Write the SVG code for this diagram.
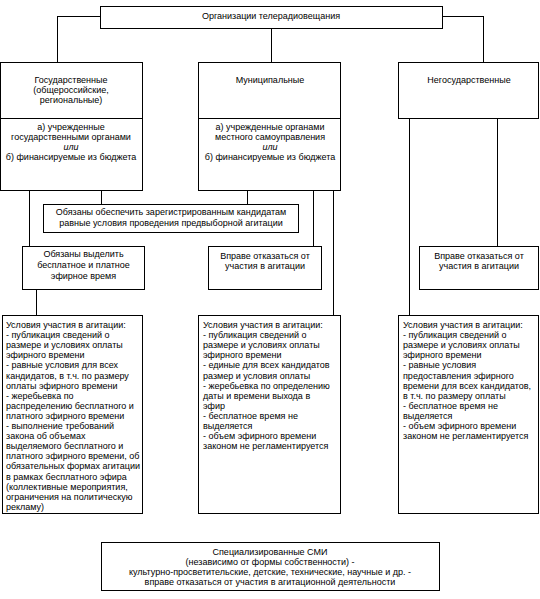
<svg xmlns="http://www.w3.org/2000/svg" width="540" height="599" viewBox="0 0 540 599">
<style>
rect{fill:#fff;stroke:#000;stroke-width:1}
path{fill:none;stroke:#000;stroke-width:1}
text{font-family:"Liberation Sans",Arial,sans-serif;font-size:9px;fill:#000}
.c{text-anchor:middle}
.i{font-style:italic}
</style>
<rect width="540" height="599" style="stroke:none"/>
<g id="connectors" shape-rendering="crispEdges">
<path d="M100.5 16.5H57.5V62.5"/>
<path d="M442.5 16.5H483.5V62.5"/>
<path d="M271.5 28.5V62.5"/>
<path d="M29.5 190.5V246.5"/>
<path d="M101.5 190.5V204.5"/>
<path d="M36.5 289.5V315.5"/>
<path d="M247.5 190.5V204.5"/>
<path d="M313.5 190.5V246.5"/>
<path d="M333.5 190.5V315.5"/>
<path d="M409.5 118.5V315.5"/>
<path d="M497.5 118.5V246.5"/>
</g>
<g id="top" shape-rendering="crispEdges">
<rect x="100.5" y="6.5" width="342" height="22"/>
<text class="c" x="271" y="19">Организации телерадиовещания</text>
</g>
<g id="gos">
<rect x="0.5" y="62.5" width="142" height="56" shape-rendering="crispEdges"/>
<text class="c" x="71" y="83">Государственные</text>
<text class="c" x="71" y="93">(общероссийские,</text>
<text class="c" x="71" y="103">региональные)</text>
</g>
<g id="gos2">
<rect x="0.5" y="118.5" width="142" height="72" shape-rendering="crispEdges"/>
<text class="c" x="71" y="130">а) учрежденные</text>
<text class="c" x="71" y="140">государственными органами</text>
<text class="c i" x="71" y="150">или</text>
<text class="c" x="71" y="160">б) финансируемые из бюджета</text>
</g>
<g id="mun">
<rect x="198.5" y="62.5" width="142" height="56" shape-rendering="crispEdges"/>
<text class="c" x="270" y="83">Муниципальные</text>
</g>
<g id="mun2">
<rect x="198.5" y="118.5" width="142" height="72" shape-rendering="crispEdges"/>
<text class="c" x="270" y="130">а) учрежденные органами</text>
<text class="c" x="270" y="140">местного самоуправления</text>
<text class="c i" x="270" y="150">или</text>
<text class="c" x="270" y="160">б) финансируемые из бюджета</text>
</g>
<g id="negos">
<rect x="398.5" y="62.5" width="140" height="56" shape-rendering="crispEdges"/>
<text class="c" x="469" y="83">Негосударственные</text>
</g>
<g id="obespechit">
<rect x="43.5" y="204.5" width="255" height="28" shape-rendering="crispEdges"/>
<text class="c" x="171" y="215">Обязаны обеспечить зарегистрированным кандидатам</text>
<text class="c" x="171" y="226">равные условия проведения предвыборной агитации</text>
</g>
<g id="vydelit">
<rect x="22.5" y="246.5" width="122" height="43" shape-rendering="crispEdges"/>
<text class="c" x="83.5" y="257">Обязаны выделить</text>
<text class="c" x="83.5" y="268">бесплатное и платное</text>
<text class="c" x="83.5" y="279">эфирное время</text>
</g>
<g id="vprave-mun">
<rect x="208.5" y="246.5" width="113" height="43" shape-rendering="crispEdges"/>
<text class="c" x="265" y="259">Вправе отказаться от</text>
<text class="c" x="265" y="269">участия в агитации</text>
</g>
<g id="vprave-negos">
<rect x="419.5" y="246.5" width="119" height="43" shape-rendering="crispEdges"/>
<text class="c" x="479" y="259">Вправе отказаться от</text>
<text class="c" x="479" y="269">участия в агитации</text>
</g>
<g id="usl-gos">
<rect x="2.5" y="315.5" width="140" height="198" shape-rendering="crispEdges"/>
<text x="6" y="328">Условия участия в агитации:</text>
<text x="6" y="338.1">- публикация сведений о</text>
<text x="6" y="348.2">размере и условиях оплаты</text>
<text x="6" y="358.3">эфирного времени</text>
<text x="6" y="368.4">- равные условия для всех</text>
<text x="6" y="378.5">кандидатов, в т.ч. по размеру</text>
<text x="6" y="388.6">оплаты эфирного времени</text>
<text x="6" y="398.7">- жеребьевка по</text>
<text x="6" y="408.8">распределению бесплатного и</text>
<text x="6" y="418.9">платного эфирного времени</text>
<text x="6" y="429">- выполнение требований</text>
<text x="6" y="439.1">закона об объемах</text>
<text x="6" y="449.2">выделяемого бесплатного и</text>
<text x="6" y="459.3">платного эфирного времени, об</text>
<text x="6" y="469.4">обязательных формах агитации</text>
<text x="6" y="479.5">в рамках бесплатного эфира</text>
<text x="6" y="489.6">(коллективные мероприятия,</text>
<text x="6" y="499.7">ограничения на политическую</text>
<text x="6" y="509.8">рекламу)</text>
</g>
<g id="usl-mun">
<rect x="198.5" y="315.5" width="142" height="198" shape-rendering="crispEdges"/>
<text x="203" y="328">Условия участия в агитации:</text>
<text x="203" y="338.1">- публикация сведений о</text>
<text x="203" y="348.2">размере и условиях оплаты</text>
<text x="203" y="358.3">эфирного времени</text>
<text x="203" y="368.4">- единые для всех кандидатов</text>
<text x="203" y="378.5">размер и условия оплаты</text>
<text x="203" y="388.6">- жеребьевка по определению</text>
<text x="203" y="398.7">даты и времени выхода в</text>
<text x="203" y="408.8">эфир</text>
<text x="203" y="418.9">- бесплатное время не</text>
<text x="203" y="429">выделяется</text>
<text x="203" y="439.1">- объем эфирного времени</text>
<text x="203" y="449.2">законом не регламентируется</text>
</g>
<g id="usl-negos">
<rect x="398.5" y="315.5" width="140" height="198" shape-rendering="crispEdges"/>
<text x="403" y="328">Условия участия в агитации:</text>
<text x="403" y="338.1">- публикация сведений о</text>
<text x="403" y="348.2">размере и условиях оплаты</text>
<text x="403" y="358.3">эфирного времени</text>
<text x="403" y="368.4">- равные условия</text>
<text x="403" y="378.5">предоставления эфирного</text>
<text x="403" y="388.6">времени для всех кандидатов,</text>
<text x="403" y="398.7">в т.ч. по размеру оплаты</text>
<text x="403" y="408.8">- бесплатное время не</text>
<text x="403" y="418.9">выделяется</text>
<text x="403" y="429">- объем эфирного времени</text>
<text x="403" y="439.1">законом не регламентируется</text>
</g>
<g id="smi">
<rect x="101.5" y="542.5" width="338" height="48" shape-rendering="crispEdges"/>
<text class="c" x="270" y="555">Специализированные СМИ</text>
<text class="c" x="270" y="565">(независимо от формы собственности) -</text>
<text class="c" x="270" y="575">культурно-просветительские, детские, технические, научные и др. -</text>
<text class="c" x="270" y="585">вправе отказаться от участия в агитационной деятельности</text>
</g>
</svg>
